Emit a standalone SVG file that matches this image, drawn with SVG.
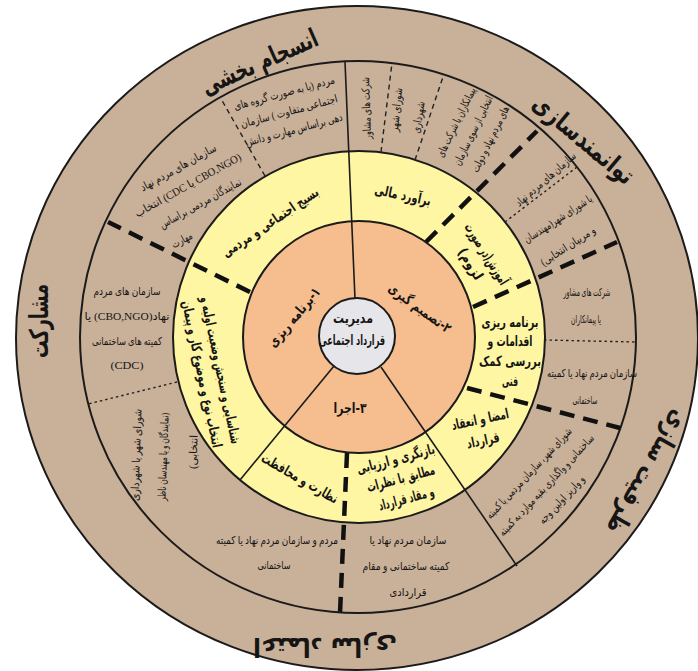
<svg xmlns="http://www.w3.org/2000/svg" width="698" height="671" viewBox="0 0 698 671">
<style>
.ring{stroke:#1b1b1b;stroke-width:2}
.sl{stroke:#1b1b1b;stroke-width:1.6;fill:none}
.td{stroke:#111;stroke-width:4.5;stroke-dasharray:15 9;fill:none}
.dd{stroke:#222;stroke-width:1.4;stroke-dasharray:5 4;fill:none}
.dt{stroke:#222;stroke-width:1.4;stroke-dasharray:2.5 3;fill:none}
text{font-family:'Liberation Serif','DejaVu Sans',serif;fill:#151515;text-anchor:middle;direction:rtl}
.s{font-size:11px}
.y{font-family:'DejaVu Sans',sans-serif;font-weight:bold;font-size:14px}
.o{font-family:'DejaVu Sans',sans-serif;font-weight:bold;font-size:26px}
</style>
<rect width="698" height="671" fill="#ffffff"/>
<g id="rings">
<ellipse cx="357" cy="338" rx="341" ry="332" fill="#C9B098" class="ring" stroke-width="2.5"/>
<ellipse cx="358" cy="337" rx="278" ry="276" fill="#C9B098" class="ring"/>
<circle cx="359" cy="337" r="186" fill="#FFF6A3" class="ring"/>
<circle cx="359" cy="337" r="116" fill="#F6BE8E" class="ring"/>
</g>
<g id="connectors">
<path class="sl" d="M355,299 L345,62"/>
<path class="sl" d="M334,366 L240,480"/>
<path class="sl" d="M381,367 L517,566"/>
<path class="td" d="M426,242 L537,131"/>
<path class="td" d="M473,307 L617,242"/>
<path class="td" d="M467,388 L620,428"/>
<path class="td" d="M347,453 L340,613"/>
<path class="td" d="M250,292 L108,222"/>
<path class="dd" d="M265,176 L220,97"/>
<path class="dd" d="M381,152 L392,63"/>
<path class="dd" d="M415,160 L444,74"/>
<path class="dt" d="M505,222 L577,167"/>
<path class="dt" d="M544,340 L636,342"/>
<path class="dt" d="M177,382 L88,404"/>
</g>
<g id="center">
<circle cx="357" cy="336" r="38" fill="#E6E6EA" class="ring"/>
<text class="y" x="353" y="323" font-size="13" textLength="40" lengthAdjust="spacingAndGlyphs">مدیریت</text>
<text class="y" x="352" y="345" font-size="13" textLength="66" lengthAdjust="spacingAndGlyphs">قرارداد اجتماعی</text>
</g>
<g id="step1" transform="translate(294,317) rotate(-50)"><text class="y" y="5" textLength="73" lengthAdjust="spacingAndGlyphs">۱-برنامه ریزی</text></g>
<g id="step2" transform="translate(420,308) rotate(36)"><text class="y" y="5" textLength="74" lengthAdjust="spacingAndGlyphs">۲-تصمیم گیری</text></g>
<g id="step3"><text class="y" x="350" y="413" textLength="33" lengthAdjust="spacingAndGlyphs">۳-اجرا</text></g>

<g id="y-basij" transform="translate(270,222) rotate(-34)"><text class="y" y="5" textLength="113" lengthAdjust="spacingAndGlyphs">بسیج اجتماعی و مردمی</text></g>
<g id="y-baravord" transform="translate(403,195) rotate(12)"><text class="y" y="5" textLength="57" lengthAdjust="spacingAndGlyphs">برآورد مالی</text></g>
<g id="y-amoozesh" transform="translate(480,258) rotate(58)"><text class="y" y="-3" textLength="70" lengthAdjust="spacingAndGlyphs">آموزش(در صورت</text><text class="y" y="16" textLength="35" lengthAdjust="spacingAndGlyphs">لزوم)</text></g>
<g id="y-barnameh">
<text class="y" x="510" y="327" textLength="57" lengthAdjust="spacingAndGlyphs">برنامه ریزی</text>
<text class="y" x="510" y="346" textLength="45" lengthAdjust="spacingAndGlyphs">اقدامات و</text>
<text class="y" x="510" y="366" textLength="62" lengthAdjust="spacingAndGlyphs">بررسی کمک</text>
<text class="y" x="510" y="386" textLength="16" lengthAdjust="spacingAndGlyphs">فنی</text>
</g>
<g id="y-emza">
<text class="y" transform="translate(481,424) rotate(-12)" textLength="58" lengthAdjust="spacingAndGlyphs">امضا و انعقاد</text>
<text class="y" transform="translate(484,445) rotate(-12)" textLength="33" lengthAdjust="spacingAndGlyphs">قرارداد</text>
</g>
<g id="y-baznegari" transform="translate(401,479) rotate(-15)">
<text class="y" y="-16" textLength="80" lengthAdjust="spacingAndGlyphs">بازنگری و ارزیابی</text>
<text class="y" y="4" textLength="70" lengthAdjust="spacingAndGlyphs">مطابق با نظرات</text>
<text class="y" y="25" textLength="57" lengthAdjust="spacingAndGlyphs">و مقاد قرارداد</text>
</g>
<g id="y-nezarat" transform="translate(300,478) rotate(30)"><text class="y" y="5" textLength="86" lengthAdjust="spacingAndGlyphs">نظارت و محافظت</text></g>
<g id="y-shenasaei" transform="translate(212,372) rotate(78)">
<text class="y" y="-4" textLength="150" lengthAdjust="spacingAndGlyphs">شناسایی و سنجش وضعیت اولیه و</text>
<text class="y" y="15" textLength="150" lengthAdjust="spacingAndGlyphs">انتخاب نوع و موضوع کار و پیمان</text>
</g>

<g id="t-top" transform="translate(289,111) rotate(-15)">
<text class="s" y="-15" textLength="104" lengthAdjust="spacingAndGlyphs">مردم (یا به صورت گروه های</text>
<text class="s" y="4" textLength="100" lengthAdjust="spacingAndGlyphs">اجتماعی متفاوت ) سازمان</text>
<text class="s" y="23" textLength="100" lengthAdjust="spacingAndGlyphs">دهی براساس مهارت و دانش</text>
</g>
<g id="t-topleft" transform="translate(190,195) rotate(-29)">
<text class="s" x="3" y="-26" textLength="85" lengthAdjust="spacingAndGlyphs">سازمان های مردم نهاد</text>
<text class="s" x="3" y="-6" textLength="120" lengthAdjust="spacingAndGlyphs">(CBO,NGO یا CDC) انتخاب</text>
<text class="s" x="5" y="16" textLength="92" lengthAdjust="spacingAndGlyphs">نمایندگان مردمی براساس</text>
<text class="s" x="-29" y="39" textLength="22" lengthAdjust="spacingAndGlyphs">مهارت</text>
</g>
<g id="t-left">
<text class="s" x="127" y="295" textLength="67" lengthAdjust="spacingAndGlyphs">سازمان های مردم</text>
<text class="s" x="127" y="320" font-size="13" textLength="85" lengthAdjust="spacingAndGlyphs">نهاد(CBO,NGO) یا</text>
<text class="s" x="127" y="345" textLength="70" lengthAdjust="spacingAndGlyphs">کمیته های ساختمانی</text>
<text class="s" x="127" y="369" font-size="14" textLength="33" lengthAdjust="spacingAndGlyphs">(CDC)</text>
</g>
<g id="t-bottomleft">
<text class="s" transform="translate(140,455) rotate(-88)" textLength="92" lengthAdjust="spacingAndGlyphs">شورای شهر یا شهرداری</text>
<text class="s" transform="translate(167,457) rotate(-88)" textLength="88" lengthAdjust="spacingAndGlyphs">(نمایندگان و یا مهندسان ناظر</text>
<text class="s" transform="translate(197,452) rotate(-88)" textLength="34" lengthAdjust="spacingAndGlyphs">انتخابی)</text>
</g>
<g id="t-bottom1">
<text class="s" x="277" y="544" textLength="122" lengthAdjust="spacingAndGlyphs">مردم و سازمان مردم نهاد یا کمیته</text>
<text class="s" x="274" y="569" textLength="33" lengthAdjust="spacingAndGlyphs">ساختمانی</text>
</g>
<g id="t-bottom2">
<text class="s" x="408" y="544" textLength="77" lengthAdjust="spacingAndGlyphs">سازمان مردم نهاد یا</text>
<text class="s" x="406" y="570" textLength="87" lengthAdjust="spacingAndGlyphs">کمیته ساختمانی و مقام</text>
<text class="s" x="408" y="596" textLength="37" lengthAdjust="spacingAndGlyphs">قراردادی</text>
</g>
<g id="t-bottomright" transform="translate(546,485) rotate(-47)">
<text class="s" y="-17" x="-3" textLength="120" lengthAdjust="spacingAndGlyphs">شورای شهر، سازمان مردمی یا کمیته</text>
<text class="s" y="4" textLength="134" lengthAdjust="spacingAndGlyphs">ساختمانی و واگذاری بقیه موارد به کمیته</text>
<text class="s" y="25" x="0" textLength="62" lengthAdjust="spacingAndGlyphs">و واریز اولین وجه</text>
</g>
<g id="t-right1">
<text class="s" x="587" y="296" textLength="47" lengthAdjust="spacingAndGlyphs">شرکت های مشاور</text>
<text class="s" x="586" y="323" textLength="30" lengthAdjust="spacingAndGlyphs">یا پیمانکاران</text>
</g>
<g id="t-right2">
<text class="s" x="592" y="377" textLength="90" lengthAdjust="spacingAndGlyphs">سازمان مردم نهاد یا کمیته</text>
<text class="s" x="585" y="404" textLength="25" lengthAdjust="spacingAndGlyphs">ساختمانی</text>
</g>
<g id="t-right3">
<text class="s" transform="translate(548,182) rotate(-41)" textLength="76" lengthAdjust="spacingAndGlyphs">سازمان های مردم نهاد</text>
</g>
<g id="t-right4">
<text class="s" transform="translate(560,222) rotate(-33)" textLength="79" lengthAdjust="spacingAndGlyphs">یا شورای شهر(مهندسان</text>
<text class="s" transform="translate(570,249) rotate(-33)" textLength="63" lengthAdjust="spacingAndGlyphs">و مربیان انتخابی)</text>
</g>
<g id="t-topright1"><text class="s" transform="translate(370,108) rotate(-92)" textLength="62" lengthAdjust="spacingAndGlyphs">شرکت های مشاور</text></g>
<g id="t-topright2">
<text class="s" transform="translate(400,110) rotate(-84)" textLength="44" lengthAdjust="spacingAndGlyphs">شورای شهر</text>
<text class="s" transform="translate(422,118) rotate(-80)" textLength="32" lengthAdjust="spacingAndGlyphs">شهرداری</text>
</g>
<g id="t-topright3" transform="translate(472,130) rotate(-64)">
<text class="s" y="-14" textLength="76" lengthAdjust="spacingAndGlyphs">پیمانکاران یا شرکت های</text>
<text class="s" y="5" textLength="76" lengthAdjust="spacingAndGlyphs">انتخابی از سوی سازمان</text>
<text class="s" y="24" textLength="72" lengthAdjust="spacingAndGlyphs">های مردم نهاد و دولت</text>
</g>

<g id="outer-ensejam"><text class="o" transform="translate(263,70) rotate(-24)" textLength="125" lengthAdjust="spacingAndGlyphs">انسجام بخشی</text></g>
<g id="outer-tavanmand"><text class="o" transform="translate(578,146) rotate(40)" textLength="124" lengthAdjust="spacingAndGlyphs">توانمندسازی</text></g>
<g id="outer-mosharekat"><text class="o" transform="translate(48,321) rotate(-90)" textLength="74" lengthAdjust="spacingAndGlyphs">مشارکت</text></g>
<g id="outer-zarfiat"><text class="o" transform="translate(640,468) rotate(120)" textLength="138" lengthAdjust="spacingAndGlyphs">ظرفیت سازی</text></g>
<g id="outer-bottom"><text class="o" transform="translate(325,638) rotate(180)" textLength="144" lengthAdjust="spacingAndGlyphs">اعتماد سازی</text></g>
</svg>
